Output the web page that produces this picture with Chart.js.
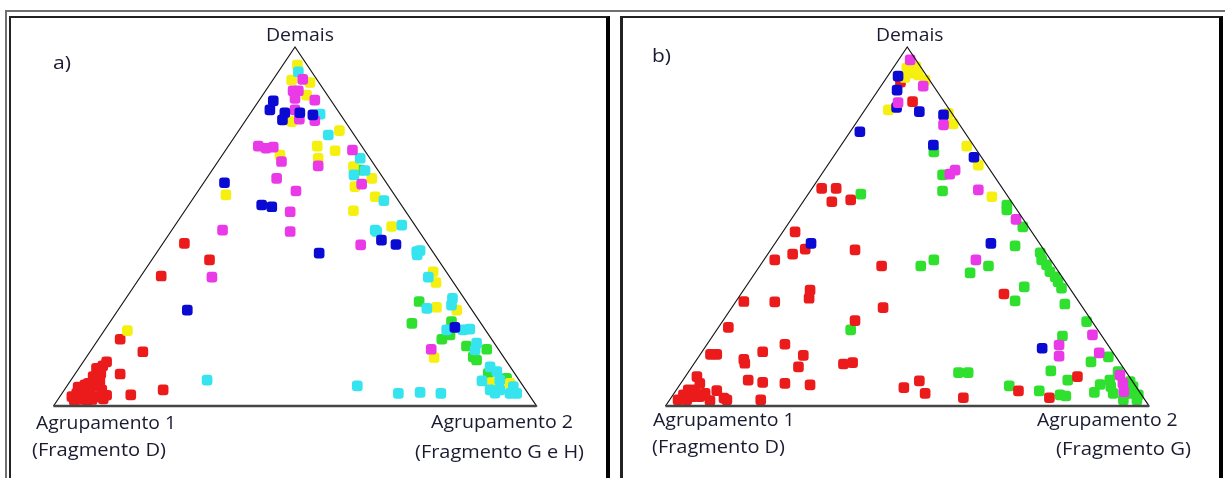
<!DOCTYPE html>
<html><head><meta charset="utf-8">
<script src="https://cdn.jsdelivr.net/npm/chart.js@4"></script>
<style>
html,body{margin:0;padding:0;background:#fff;}
body{width:1225px;height:478px;overflow:hidden;position:relative;font-family:'Open Sans',sans-serif;}
.frame{position:absolute;box-sizing:border-box;}
canvas{position:absolute;top:0;}
.lbl{position:absolute;white-space:nowrap;font-size:18px;line-height:18px;font-weight:500;color:#1a1a30;transform-origin:0 0;}
</style></head>
<body>
<div class="frame" style="left:5px;top:10px;width:1220px;height:490px;border-top:2px solid #707070;border-left:2px solid #707070;"></div>
<div class="frame" style="left:9px;top:16px;width:601px;height:490px;border-top:2px solid #222;border-left:2px solid #222;border-right:4px solid #000;"></div>
<div class="frame" style="left:620px;top:16px;width:603px;height:490px;border-top:2px solid #222;border-left:3px solid #222;border-right:4px solid #000;"></div>
<canvas id="ca" width="612" height="478" style="left:0px"></canvas>
<canvas id="cb" width="613" height="478" style="left:612px"></canvas>
<script>
// Ternary-style positions: x = position along the base (0 = Agrupamento 1, 100 = Agrupamento 2), y = share of "Demais" (0-100)
const triangleCorners = [[0,0],[50,100],[100,0],[0,0]];
const baseLine = [[0,0],[100,0]];

// Panel a)
const aRed = [[27.1,45.3],[32.3,40.7],[22.3,36.2],[13.8,18.6],[18.5,15.1],[11.0,12.3],[10.2,11.2],[8.9,10.5],[9.8,9.0],[8.2,8.2],[7.2,6.3],[6.5,5.9],[5.8,4.5],[4.8,3.5],[3.8,2.6],[7.6,3.5],[9.3,2.6],[8.6,5.6],[10.0,4.5],[6.3,2.8],[5.1,5.3],[5.5,1.8],[8.0,1.8],[10.3,2.0],[9.6,6.8],[7.0,1.5],[4.3,1.6],[11.0,3.0],[13.8,8.9],[22.7,4.5],[16.0,3.1]];
const aGreen = [[63.5,65.7],[75.7,29.1],[74.2,23.0],[82.4,23.5],[80.4,18.6],[82.1,19.8],[85.5,16.7],[89.7,15.8],[86.9,13.7],[87.6,12.8],[90.0,9.1],[93.8,7.7]];
const aYellow = [[50.5,95.0],[49.3,90.8],[53.1,90.1],[52.4,86.6],[49.3,79.2],[59.2,76.7],[46.9,69.9],[54.6,72.4],[58.3,71.1],[54.8,69.0],[62.1,66.7],[65.9,63.4],[62.4,61.1],[66.6,58.3],[35.7,58.8],[62.1,54.4],[70.0,50.0],[15.3,21.0],[78.6,37.4],[79.2,34.4],[83.5,26.7],[79.3,27.5],[78.8,13.5],[90.7,6.5],[94.5,6.3]];
const aCyan = [[50.7,93.1],[55.2,81.3],[56.9,75.5],[63.5,69.0],[62.2,64.4],[64.5,65.6],[68.4,57.2],[66.6,49.0],[66.9,48.6],[72.1,50.4],[75.2,43.0],[75.9,43.3],[75.3,42.1],[31.8,7.2],[77.6,35.9],[82.6,30.0],[82.4,28.1],[77.3,27.2],[81.4,21.2],[84.8,21.2],[86.2,21.4],[87.6,17.5],[87.3,15.6],[90.4,10.9],[91.8,9.6],[88.7,7.0],[92.4,7.2],[90.4,4.5],[92.4,4.5],[94.5,3.5],[95.9,3.5],[95.2,5.4],[91.4,3.6],[62.9,5.6],[71.4,3.5],[75.9,3.8],[80.2,3.5]];
const aMagenta = [[51.6,91.0],[49.6,87.8],[50.7,87.8],[50.0,85.7],[54.1,85.2],[50.0,82.5],[50.9,79.9],[54.1,79.5],[42.4,72.4],[44.0,71.8],[45.5,72.1],[47.2,68.1],[61.9,71.3],[54.8,66.9],[63.8,61.8],[46.2,63.4],[50.2,59.9],[49.0,54.1],[49.0,48.6],[63.6,44.9],[35.0,49.0],[32.8,35.9],[78.2,15.8]];
const aBlue = [[45.5,85.0],[44.8,82.5],[47.9,81.7],[51.0,81.7],[47.4,79.7],[53.7,81.1],[43.1,56.0],[45.2,55.5],[67.9,46.2],[70.9,45.0],[55.0,42.6],[35.4,62.2],[27.7,26.7],[83.1,21.9]];

// Panel b)
const bRed = [[48.6,90.2],[51.1,84.8],[32.3,60.6],[35.3,60.6],[34.4,56.9],[38.3,57.4],[26.8,48.5],[28.9,43.7],[26.3,42.3],[22.6,40.7],[39.2,43.5],[44.7,39.0],[29.9,32.3],[29.7,30.0],[16.2,29.1],[22.6,29.0],[45.0,27.4],[39.2,23.8],[13.0,21.9],[24.7,17.2],[9.3,14.4],[10.6,14.4],[20.1,15.1],[16.2,13.0],[16.4,11.9],[28.5,14.1],[27.5,10.9],[36.8,11.7],[38.7,12.1],[17.1,7.2],[20.1,6.6],[24.7,6.3],[29.9,5.9],[52.5,7.0],[49.3,5.1],[53.7,3.5],[19.7,1.7],[6.5,8.2],[7.1,6.3],[4.7,4.5],[3.7,3.1],[2.6,1.7],[5.7,2.6],[7.1,2.6],[10.6,4.3],[12.7,1.7],[9.2,1.5],[4.4,1.7],[8.2,3.5],[6.1,4.5],[12.1,2.2],[70.0,31.2],[61.6,2.3],[73.0,4.2],[79.4,2.3],[85.2,8.2]];
const bGreen = [[55.5,70.8],[57.3,64.4],[57.3,59.9],[70.6,56.0],[70.6,54.6],[73.9,49.9],[72.3,44.6],[77.5,42.7],[40.4,59.0],[52.8,39.0],[55.5,40.7],[38.3,21.2],[77.8,40.7],[78.8,39.3],[79.5,37.4],[80.6,36.0],[81.2,34.6],[81.9,32.8],[66.8,39.0],[63.0,37.1],[74.2,33.2],[72.3,29.3],[82.6,28.4],[87.1,23.5],[82.1,19.5],[91.6,13.7],[88.0,12.3],[79.7,9.8],[60.6,9.3],[62.6,9.3],[71.1,5.6],[77.3,4.2],[83.2,7.2],[81.6,3.1],[82.8,2.8],[89.9,6.0],[88.7,3.8],[91.9,7.2],[93.6,9.6],[92.6,3.5],[96.1,3.5],[97.5,1.7],[94.7,1.7],[96.7,5.4],[96.1,6.8],[97.8,3.1],[92.1,5.4]];
const bYellow = [[49.9,94.1],[51.2,93.1],[50.6,92.7],[52.3,92.2],[51.8,94.5],[49.5,91.5],[53.7,90.8],[46.1,82.5],[58.5,81.5],[59.5,78.6],[62.3,72.4],[64.7,67.1],[67.5,58.3]];
const bBlue = [[48.1,91.9],[47.9,88.0],[47.8,83.2],[52.5,82.0],[57.5,81.1],[40.2,76.4],[55.4,72.7],[63.8,69.3],[67.3,45.3],[30.1,45.3],[77.9,16.1]];
const bMagenta = [[50.6,96.4],[53.3,89.1],[48.1,84.5],[57.5,78.3],[59.9,65.7],[58.8,64.6],[64.7,60.2],[72.5,52.0],[64.2,40.7],[88.3,19.8],[81.4,17.0],[81.4,13.9],[89.7,14.8],[94.0,8.6],[94.6,6.3],[94.8,4.0]];

const COLORS = {red:'#ec1b1b', green:'#2fe02f', yellow:'#f6f010', cyan:'#35e4ee', magenta:'#ea3ae8', blue:'#0a0ad2'};

function toXY(arr){ return arr.map(p=>({x:p[0], y:p[1]})); }

function makeChart(id, series, pad){
  const datasets = [];
  // lower order value = drawn on top
  series.forEach((s, i)=>{
    datasets.push({
      label: s.name, data: toXY(s.data),
      backgroundColor: s.color, borderColor: s.color, borderWidth: 0,
      pointStyle: 'rectRounded', pointRadius: 6.2, pointHoverRadius: 6.2,
      showLine: false, clip: false, order: 10 + series.length - i
    });
  });
  datasets.push({label:'sides', data: toXY(triangleCorners), showLine:true, borderColor:'#151515', borderWidth:1.2, pointRadius:0, fill:false, clip:false, order:1});
  datasets.push({label:'base', data: toXY(baseLine), showLine:true, borderColor:'#454545', borderWidth:2.4, pointRadius:0, fill:false, clip:false, order:0});
  return new Chart(document.getElementById(id), {
    type: 'scatter',
    data: { datasets },
    options: {
      responsive: false, animation: false, events: [],
      layout: { padding: pad },
      scales: {
        x: { type:'linear', min:0, max:100, display:false },
        y: { type:'linear', min:0, max:100, display:false }
      },
      plugins: { legend:{display:false}, tooltip:{enabled:false}, title:{display:false} }
    }
  });
}

makeChart('ca', [
  {name:'Verde', data:aGreen, color:COLORS.green},
  {name:'Vermelho', data:aRed, color:COLORS.red},
  {name:'Amarelo', data:aYellow, color:COLORS.yellow},
  {name:'Ciano', data:aCyan, color:COLORS.cyan},
  {name:'Magenta', data:aMagenta, color:COLORS.magenta},
  {name:'Azul', data:aBlue, color:COLORS.blue}
], {left:53.5, right:75.5, top:47, bottom:72});

makeChart('cb', [
  {name:'Verde', data:bGreen, color:COLORS.green},
  {name:'Vermelho', data:bRed, color:COLORS.red},
  {name:'Amarelo', data:bYellow, color:COLORS.yellow},
  {name:'Azul', data:bBlue, color:COLORS.blue},
  {name:'Magenta', data:bMagenta, color:COLORS.magenta}
], {left:53.5, right:76, top:47, bottom:72});

const labels = [
  {t:'Demais', l:266, r:334, top:25},
  {t:'a)', l:53, r:71, top:53},
  {t:'Agrupamento 1', l:36, r:176, top:413},
  {t:'(Fragmento D)', l:32, r:166, top:440},
  {t:'Agrupamento 2', l:431, r:573, top:412},
  {t:'(Fragmento G e H)', l:414.5, r:583.5, top:442},
  {t:'Demais', l:876, r:943.5, top:25},
  {t:'b)', l:652, r:671, top:46},
  {t:'Agrupamento 1', l:653, r:794.6, top:410},
  {t:'(Fragmento D)', l:652, r:785, top:437},
  {t:'Agrupamento 2', l:1037, r:1177.7, top:410},
  {t:'(Fragmento G)', l:1055.7, r:1190.6, top:439}
];
const spans = labels.map(o=>{
  const s = document.createElement('span');
  s.className = 'lbl'; s.textContent = o.t;
  s.style.left = o.l + 'px'; s.style.top = o.top + 'px';
  document.body.appendChild(s);
  return {s, o};
});
function fit(){
  spans.forEach(({s,o})=>{
    s.style.transform = 'none';
    const w = s.getBoundingClientRect().width;
    if (w > 0) s.style.transform = 'scaleX(' + ((o.r - o.l) / w).toFixed(4) + ')';
  });
}
fit();
if (document.fonts && document.fonts.ready) document.fonts.ready.then(fit);
</script>
</body></html>
